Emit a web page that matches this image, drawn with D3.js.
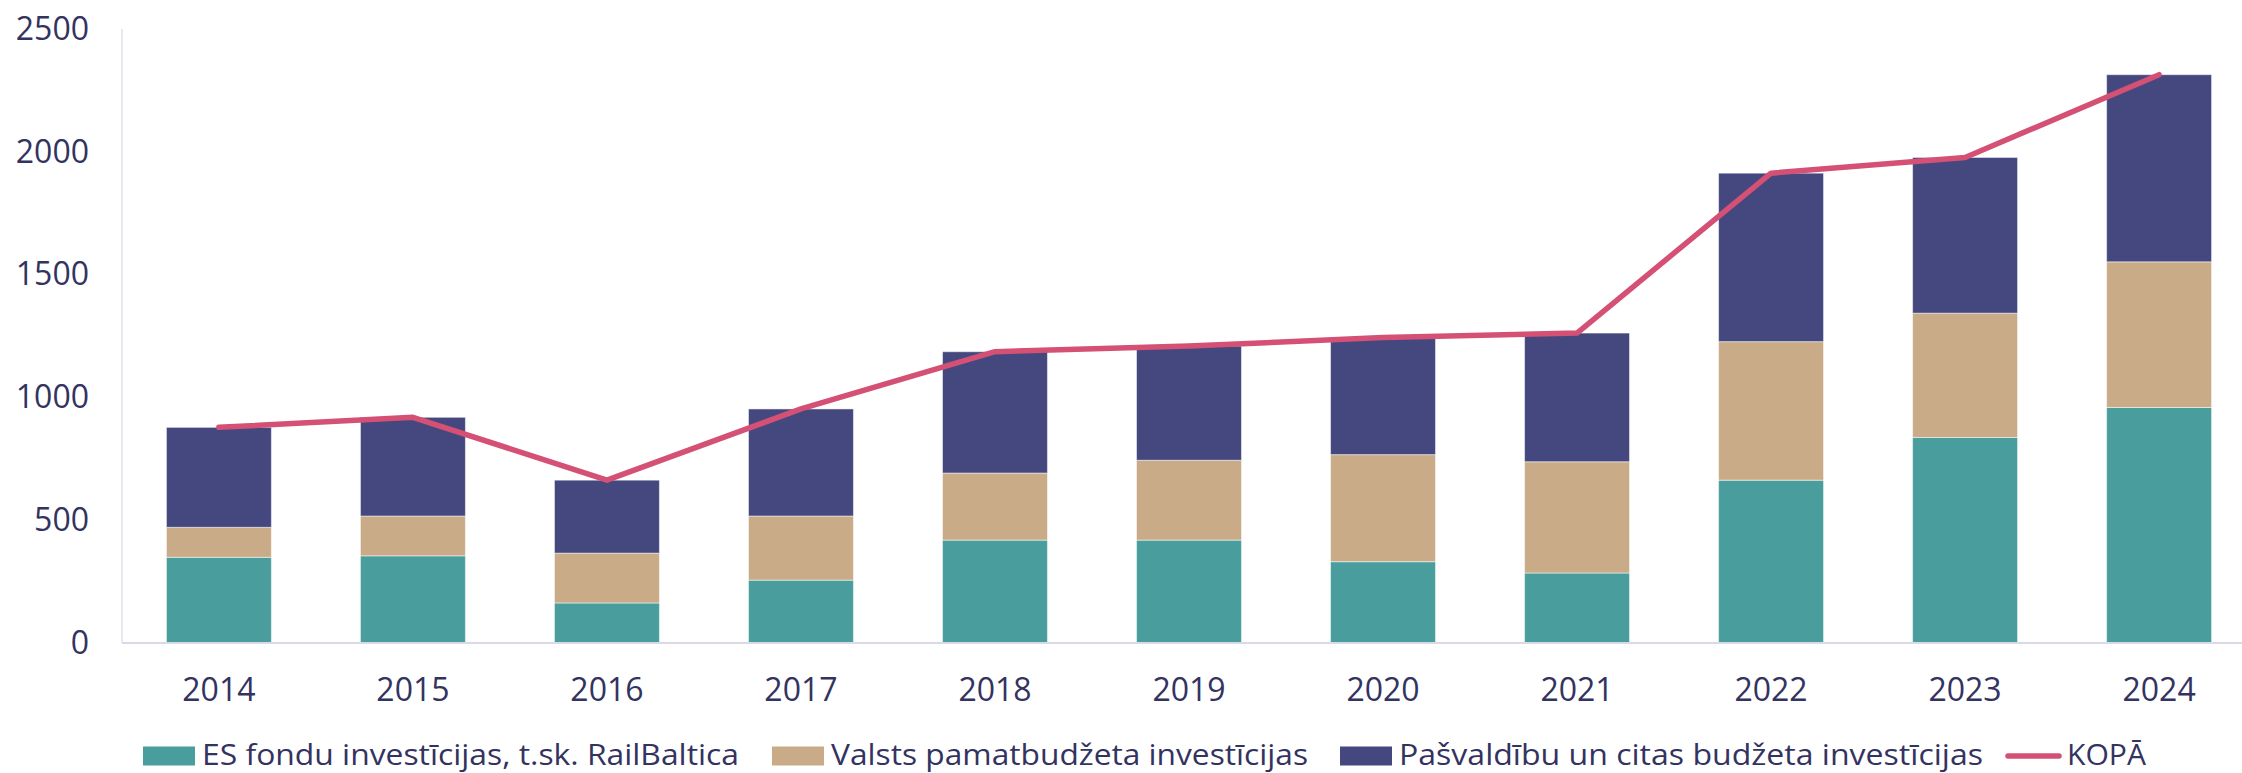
<!DOCTYPE html>
<html lang="lv">
<head>
<meta charset="utf-8">
<title>Investīcijas</title>
<style>
  body { margin: 0; background: #fff; }
  svg { display: block; font-family: "Open Sans", sans-serif; }
  .tick text { fill: #33335f; }
  .legend text { fill: #33335f; }
</style>
</head>
<body>
<script src="https://cdn.jsdelivr.net/npm/d3@7"></script>
<script>
// values
const years = ["2014", "2015", "2016", "2017", "2018", "2019", "2020", "2021", "2022", "2023", "2024"];
const esFondi = [349, 355, 163, 256, 419, 419, 331, 285, 663, 837, 959];
const valsts = [122, 162, 203, 261, 273, 325, 436, 453, 564, 506, 593];
const pasvaldibas = [407, 402, 297, 436, 494, 465, 477, 524, 686, 634, 762];
const kopa = [878, 919, 663, 953, 1186, 1209, 1244, 1262, 1913, 1977, 2314];
const yTicks = [0, 500, 1000, 1500, 2000, 2500];

const seriesNames = ["ES fondu investīcijas, t.sk. RailBaltica", "Valsts pamatbudžeta investīcijas", "Pašvaldību un citas budžeta investīcijas"];
const colors = ["#499e9d", "#c9ab88", "#45487f"];
const lineColor = "#d45075";

const width = 2242, height = 773;
const margin = {top: 29, right: 0, bottom: 130, left: 122};

const svg = d3.select("body").append("svg")
    .attr("width", width)
    .attr("height", height);

// the last band runs a bit past the right edge, like in the original
const x = d3.scaleBand()
    .domain(years)
    .range([margin.left, 2256])
    .paddingInner(0.459)
    .paddingOuter(0.229);

const y = d3.scaleLinear()
    .domain([0, 2500])
    .range([height - margin.bottom, margin.top]);

// build rows for stacking
const rows = years.map((yr, i) => ({year: yr, a: esFondi[i], b: valsts[i], c: pasvaldibas[i]}));
const stack = d3.stack().keys(["a", "b", "c"])(rows);

// y axis line
svg.append("line")
    .attr("x1", margin.left).attr("x2", margin.left)
    .attr("y1", y(2500)).attr("y2", y(0))
    .attr("stroke", "#e1e1ee").attr("stroke-width", 1.5);

svg.selectAll("g.layer")
    .data(stack)
    .join("g")
    .attr("class", "layer")
    .attr("fill", (d, i) => colors[i])
    .selectAll("rect")
    .data(d => d)
    .join("rect")
    .attr("x", d => x(d.data.year))
    .attr("width", x.bandwidth())
    .attr("y", d => y(d[1]))
    .attr("height", d => y(d[0]) - y(d[1]))
    .attr("stroke", "#fff")
    .attr("stroke-opacity", 0.5)
    .attr("stroke-width", 1);

svg.append("line")
    .attr("x1", margin.left).attr("x2", width - margin.right)
    .attr("y1", y(0)).attr("y2", y(0))
    .attr("stroke", "#d9d9e8").attr("stroke-width", 2);

// total line
const line = d3.line()
    .x((d, i) => x(years[i]) + x.bandwidth() / 2)
    .y(d => y(d));

svg.append("path")
    .datum(kopa)
    .attr("fill", "none")
    .attr("stroke", lineColor)
    .attr("stroke-width", 5.5)
    .attr("stroke-linecap", "round")
    .attr("stroke-linejoin", "round")
    .attr("d", line);

// y axis
const yAxis = svg.append("g")
    .attr("transform", `translate(${margin.left},0)`)
    .call(d3.axisLeft(y).tickValues(yTicks).tickFormat(d3.format("d")).tickSize(0).tickPadding(33));
yAxis.select(".domain").remove();
yAxis.selectAll("text").attr("font-size", 32).attr("font-family", "Open Sans");

// x axis
const xAxis = svg.append("g")
    .attr("transform", `translate(0,${y(0)})`)
    .call(d3.axisBottom(x).tickSize(0).tickPadding(35));
xAxis.select(".domain").remove();
xAxis.selectAll("text").attr("font-size", 32).attr("font-family", "Open Sans");

// legend
const legendY = 756;
const legendItems = [
  {name: seriesNames[0], color: colors[0], x: 143, w: 537, type: "rect"},
  {name: seriesNames[1], color: colors[1], x: 772, w: 477, type: "rect"},
  {name: seriesNames[2], color: colors[2], x: 1340, w: 584, type: "rect"},
  {name: "KOPĀ", color: lineColor, x: 2005, w: 79, type: "line"}
];
const lg = svg.append("g").attr("class", "legend")
    .selectAll("g")
    .data(legendItems)
    .join("g")
    .attr("transform", d => `translate(${d.x},${legendY})`);

lg.filter(d => d.type === "rect").append("rect")
    .attr("x", 0).attr("y", -9.5)
    .attr("width", 52).attr("height", 19)
    .attr("fill", d => d.color);
lg.filter(d => d.type === "line").append("line")
    .attr("x1", 3).attr("x2", 54)
    .attr("y1", 0).attr("y2", 0)
    .attr("stroke", d => d.color)
    .attr("stroke-width", 5.5)
    .attr("stroke-linecap", "round");
lg.append("text")
    .attr("x", d => d.type === "line" ? 62 : 59)
    .attr("y", 9)
    .attr("font-size", 30)
    .attr("textLength", d => d.w)
    .attr("lengthAdjust", "spacingAndGlyphs")
    .text(d => d.name);
</script>
</body>
</html>
